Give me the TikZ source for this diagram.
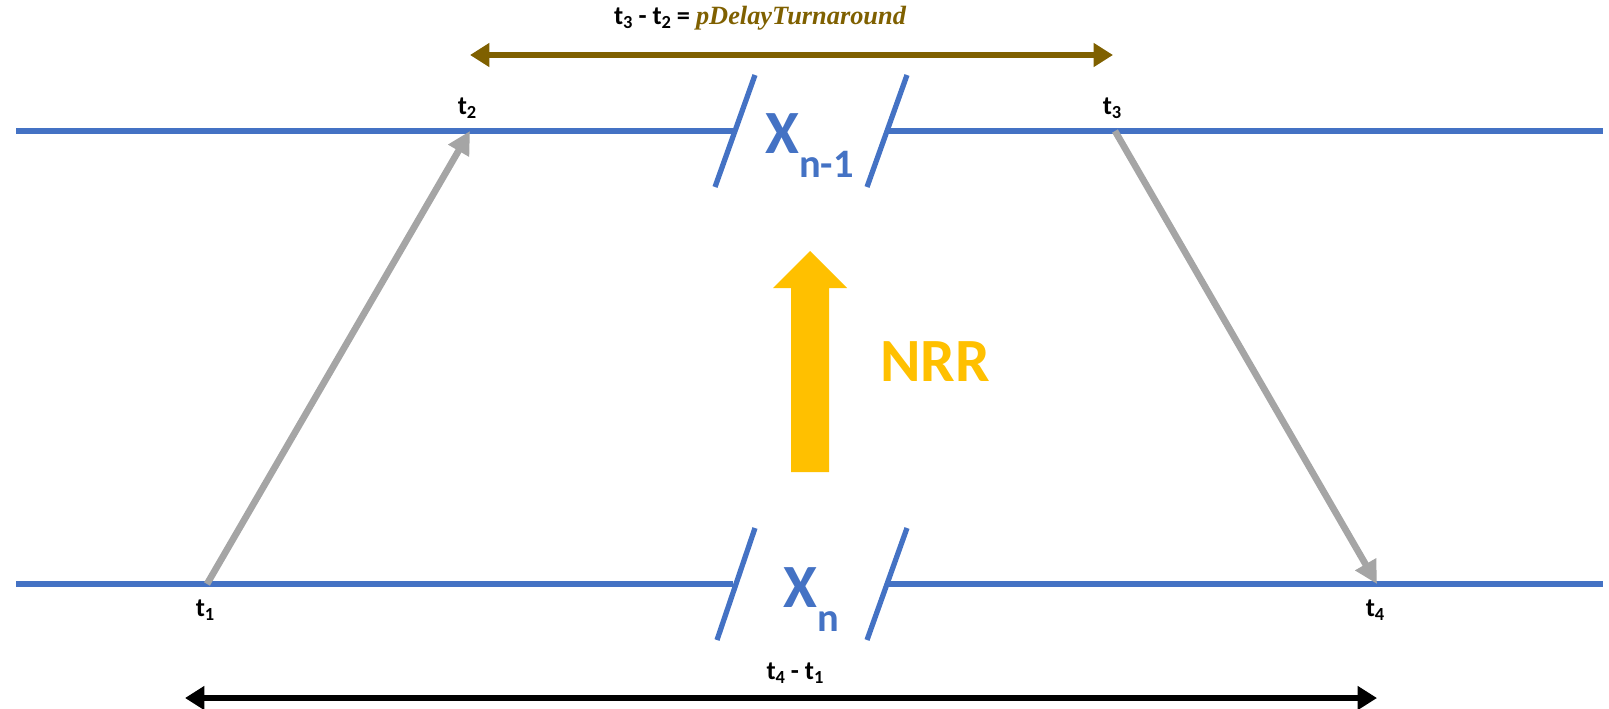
\documentclass[tikz,border=0pt]{standalone}
\usepackage{fontspec}
\setmainfont{Carlito}
\newfontfamily\serifit{Liberation Serif}
\usetikzlibrary{arrows.meta}

\definecolor{lineblue}{HTML}{4472C4}
\definecolor{msggray}{HTML}{A5A5A5}
\definecolor{nrrgold}{HTML}{FFC000}
\definecolor{turnbrown}{HTML}{7F6000}

\newcommand{\tlab}[1]{\textbf{t\raisebox{-0.35ex}{\fontsize{10.5}{10.5}\selectfont #1}}}

\begin{document}
\begin{tikzpicture}[x=0.02cm, y=-0.02cm,
  timeline/.style={lineblue, line width=3pt},
  breakmark/.style={lineblue, line width=3pt},
  msg/.style={msggray, line width=3.8pt, -{Triangle[length=13pt, width=13pt]}},
  span/.style={line width=3pt, {Triangle[length=11pt, width=13pt]}-{Triangle[length=11pt, width=13pt]}},
  tsmall/.style={font=\fontsize{15}{17}\selectfont, inner sep=0pt}]
\useasboundingbox (0,0) rectangle (1609,708);

% time points
\coordinate (t1) at (207,584);
\coordinate (t2) at (470,131);
\coordinate (t3) at (1115,131);
\coordinate (t4) at (1377,584);

% upper time line, broken at X_{n-1}
\draw[timeline] (16,131) -- (733,131);
\draw[timeline] (888,131) -- (1603,131);
\draw[breakmark] (755,75) -- (715,187);
\draw[breakmark] (907,75) -- (867,187);
\node[lineblue, anchor=base west, inner sep=0pt, font=\fontsize{35}{35}\selectfont\bfseries] (xnm) at (765,153)
  {X\raisebox{-0.4em}{\fontsize{23}{23}\selectfont n-1}};

% lower time line, broken at X_n
\draw[timeline] (16,584) -- (733,584);
\draw[timeline] (888,584) -- (1603,584);
\draw[breakmark] (755,528) -- (717,640);
\draw[breakmark] (907,528) -- (867,640);
\node[lineblue, anchor=base west, inner sep=0pt, font=\fontsize{35}{35}\selectfont\bfseries] (xn) at (783,607)
  {X\raisebox{-0.4em}{\fontsize{23}{23}\selectfont n}};

% messages
\draw[msg] (t1) -- (t2);
\draw[msg] (t3) -- (t4);

\node[tsmall] (lt1) at (205,610) {\tlab{1}};
\node[tsmall] (lt2) at (467,108) {\tlab{2}};
\node[tsmall] (lt3) at (1112,108) {\tlab{3}};
\node[tsmall] (lt4) at (1375,610) {\tlab{4}};

% NRR arrow
\fill[nrrgold] (791,472) -- (791,288) -- (773,288) -- (810,251) -- (847,288) -- (829,288) -- (829,472) -- cycle;
\node[nrrgold, font=\fontsize{35}{35}\selectfont\bfseries] (nrr) at (935,362) {NRR};

% turnaround and round trip spans
\coordinate (ta) at (470,55);
\coordinate (tb) at (1113,55);
\draw[span, turnbrown] (ta) -- (tb);
\node[tsmall] (turn) at (760,18) {\tlab{3} \textbf{-} \tlab{2} \textbf{=} {\serifit\itshape\bfseries\color{turnbrown}pDelayTurnaround}};

\coordinate (ra) at (185,698);
\coordinate (rb) at (1377,698);
\draw[span, black] (ra) -- (rb);
\node[tsmall] (trip) at (795,673) {\tlab{4} \textbf{-} \tlab{1}};
\end{tikzpicture}
\end{document}
